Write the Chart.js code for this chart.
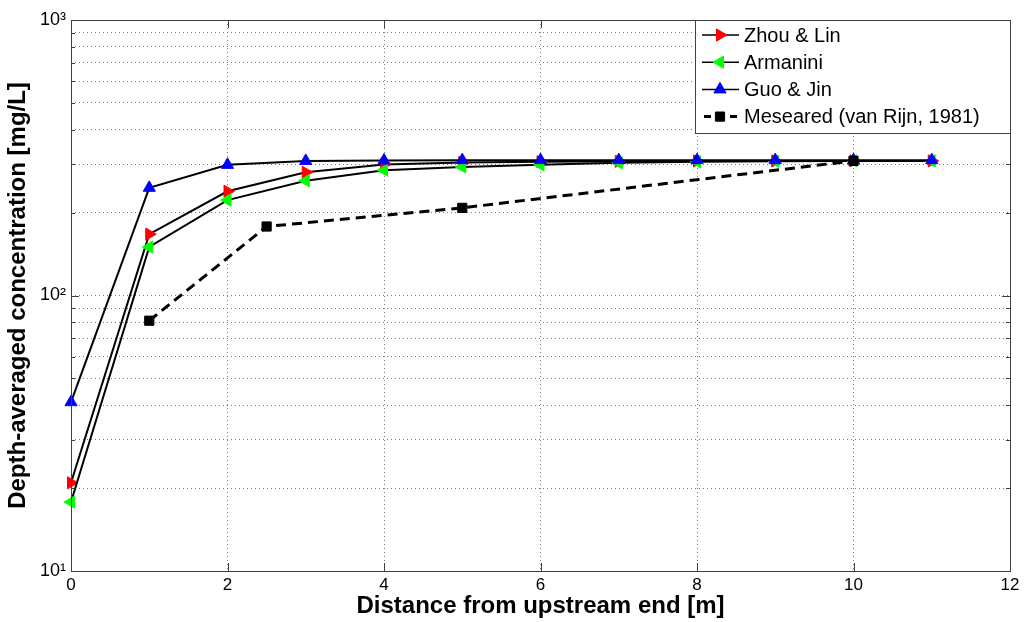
<!DOCTYPE html>
<html>
<head>
<meta charset="utf-8">
<script src="https://cdn.jsdelivr.net/npm/chart.js@4.4.1/dist/chart.umd.min.js"></script>
<style>
  html, body { margin: 0; padding: 0; background: #fff; }
  #chart { display: block; }
</style>
</head>
<body>
<canvas id="chart" width="1024" height="622"></canvas>
<script>
(() => {
  // values
  const distances = [0, 1, 2, 3, 4, 5, 6, 7, 8, 9, 10, 11];
  const zhouLin = [20.9, 167, 239, 280, 299, 304, 306, 307, 308, 308, 308, 308];
  const armanini = [17.8, 150, 222, 261, 285, 293, 298, 303, 306, 307, 308, 308];
  const guoJin = [41, 246, 298, 308, 309, 310, 310, 310, 310, 310, 310, 310];
  const measuredDistances = [1, 2.5, 5, 10];
  const measured = [81, 178, 208, 308];

  const xTicks = [0, 2, 4, 6, 8, 10, 12];
  const yTicks = [10, 20, 30, 40, 50, 60, 70, 80, 90, 100, 200, 300, 400, 500, 600, 700, 800, 900, 1000];
  const yMajorTicks = [10, 100, 1000];
  const yMajorLabels = ["10¹", "10²", "10³"];

  const FONT = '"Liberation Sans", Arial, sans-serif';

  /**
   * @param {Number[]} xs
   * @param {Number[]} ys
   * @returns Array
   */
  const toPoints = (xs, ys) => xs.map((x, i) => ({ x: x, y: ys[i] }));

  const solidSeries = (label, ys, color, style, rotation, order) => ({
    label: label,
    data: toPoints(distances, ys),
    borderColor: "#000",
    borderWidth: 2,
    pointStyle: style,
    rotation: rotation,
    pointRadius: 7,
    pointBackgroundColor: color,
    pointBorderColor: color,
    pointBorderWidth: 1,
    tension: 0,
    clip: false,
    order: order,
  });

  const datasets = [
    solidSeries("Zhou & Lin", zhouLin, "#ff0000", "triangle", 90, 4),
    solidSeries("Armanini", armanini, "#00ff00", "triangle", -90, 3),
    solidSeries("Guo & Jin", guoJin, "#0000ff", "triangle", 0, 2),
    {
      label: "Meseared (van Rijn, 1981)",
      data: toPoints(measuredDistances, measured),
      borderColor: "#000",
      borderWidth: 3,
      borderDash: [10, 6],
      pointStyle: "rect",
      rotation: 0,
      pointRadius: 6.5,
      pointBackgroundColor: "#000",
      pointBorderColor: "#000",
      pointBorderWidth: 1,
      tension: 0,
      clip: false,
      order: 1,
    },
  ];

  // box around the axes + inside tick marks like matlab
  const boxPlugin = {
    id: "box",
    afterDraw: (chart) => {
      const { ctx, chartArea: a, scales } = chart;
      ctx.save();
      ctx.strokeStyle = "#404040";
      ctx.lineWidth = 1;
      ctx.beginPath();
      xTicks.forEach((v) => {
        const px = Math.round(scales.x.getPixelForValue(v)) + 0.5;
        ctx.moveTo(px, a.bottom);
        ctx.lineTo(px, a.bottom - 8);
        ctx.moveTo(px, a.top);
        ctx.lineTo(px, a.top + 8);
      });
      yTicks.forEach((v) => {
        const py = Math.round(scales.y.getPixelForValue(v)) + 0.5;
        const len = yMajorTicks.includes(v) ? 8 : 4;
        ctx.moveTo(a.left, py);
        ctx.lineTo(a.left + len, py);
        ctx.moveTo(a.right, py);
        ctx.lineTo(a.right - len, py);
      });
      ctx.stroke();
      ctx.strokeRect(Math.round(a.left) + 0.5, Math.round(a.top) + 0.5,
        Math.round(a.right - a.left), Math.round(a.bottom - a.top));
      ctx.restore();
    },
  };

  // legend box drawn by hand: line sample with marker through it
  const legendPlugin = {
    id: "matlabLegend",
    afterDraw: (chart) => {
      const { ctx } = chart;
      const box = { left: 695, top: 20, right: 1010, bottom: 133 };
      ctx.save();
      ctx.fillStyle = "#fff";
      ctx.fillRect(box.left, box.top, box.right - box.left, box.bottom - box.top);
      ctx.strokeStyle = "#404040";
      ctx.lineWidth = 1;
      ctx.strokeRect(box.left + 0.5, box.top + 0.5, box.right - box.left, box.bottom - box.top);
      chart.data.datasets.forEach((ds, i) => {
        const y = 35 + i * 27.2;
        ctx.strokeStyle = ds.borderColor;
        ctx.lineWidth = ds.borderDash ? 3 : 1.5;
        ctx.setLineDash(ds.borderDash ? [7, 6] : []);
        ctx.beginPath();
        if (ds.borderDash) {
          ctx.moveTo(704, y);
          ctx.lineTo(738, y);
        } else {
          ctx.moveTo(702, y);
          ctx.lineTo(739, y);
        }
        ctx.stroke();
        ctx.setLineDash([]);
        ctx.fillStyle = ds.pointBackgroundColor;
        ctx.strokeStyle = ds.pointBorderColor;
        ctx.lineWidth = 1;
        Chart.helpers.drawPoint(ctx, {
          pointStyle: ds.pointStyle,
          rotation: ds.rotation,
          radius: ds.pointRadius,
          borderWidth: 1,
        }, 720, y);
        ctx.fillStyle = "#000";
        ctx.font = "20px " + FONT;
        ctx.textBaseline = "middle";
        ctx.textAlign = "left";
        ctx.fillText(ds.label, 744, y + 1);
      });
      ctx.restore();
    },
  };

  const canvas = document.getElementById("chart");
  new Chart(canvas.getContext("2d"), {
    type: "line",
    data: { datasets: datasets },
    options: {
      responsive: false,
      animation: false,
      events: [],
      layout: { padding: { left: 0, top: 20, right: 14, bottom: 0 } },
      plugins: {
        legend: { display: false },
        tooltip: { enabled: false },
      },
      scales: {
        x: {
          type: "linear",
          min: 0,
          max: 12,
          afterBuildTicks: (scale) => {
            scale.ticks = xTicks.map((v) => ({ value: v }));
          },
          afterFit: (scale) => {
            scale.height = 51;
          },
          ticks: {
            color: "#000",
            padding: 4,
            maxRotation: 0,
            font: { family: FONT, size: 17 },
          },
          grid: {
            color: "#7a7a7a",
            lineWidth: 1,
            drawTicks: false,
          },
          border: { display: false, dash: [1, 3] },
          title: {
            display: true,
            text: "Distance from upstream end [m]",
            color: "#000",
            font: { family: FONT, size: 24, weight: "bold", lineHeight: 1.2 },
            padding: { top: 0, bottom: 1 },
          },
        },
        y: {
          type: "logarithmic",
          min: 10,
          max: 1000,
          afterBuildTicks: (scale) => {
            scale.ticks = yTicks.map((v) => ({ value: v }));
          },
          afterFit: (scale) => {
            scale.width = 71;
          },
          ticks: {
            color: "#000",
            padding: 5,
            autoSkip: false,
            font: { family: FONT, size: 18 },
            callback: (v) => {
              const k = yMajorTicks.indexOf(v);
              return k >= 0 ? yMajorLabels[k] : "";
            },
          },
          grid: {
            color: "#7a7a7a",
            lineWidth: 1,
            drawTicks: false,
          },
          border: { display: false, dash: [1, 3] },
          title: {
            display: true,
            text: "Depth-averaged concentration [mg/L]",
            color: "#000",
            font: { family: FONT, size: 24, weight: "bold", lineHeight: 1.2 },
            padding: { top: 4, bottom: 0 },
          },
        },
      },
    },
    plugins: [boxPlugin, legendPlugin],
  });
})();
</script>
</body>
</html>
